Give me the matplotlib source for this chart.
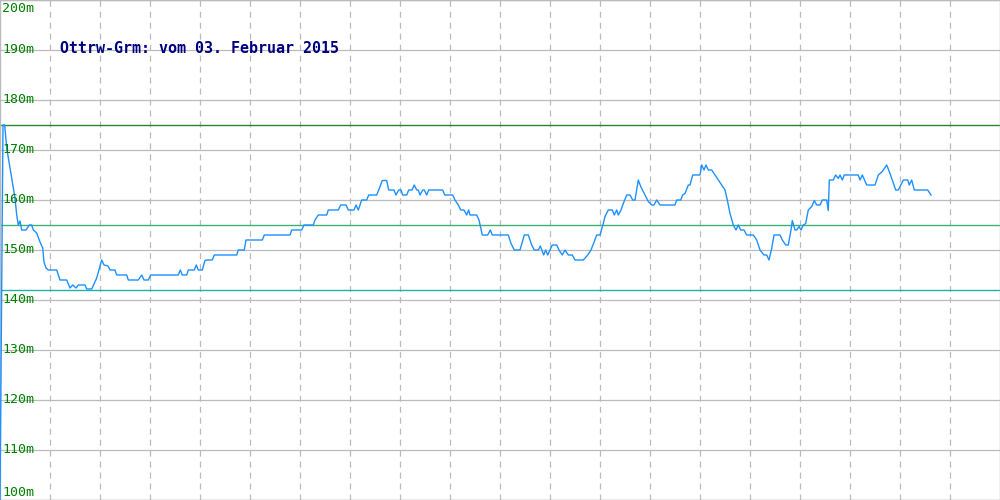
import matplotlib
matplotlib.use("Agg")
import matplotlib.pyplot as plt

# ---- data ----
title_text = "Ottrw-Grm: vom 03. Februar 2015"
y_ticks = [100, 110, 120, 130, 140, 150, 160, 170, 180, 190, 200]
x_grid = [50, 100, 150, 200, 250, 300, 350, 400, 450, 500, 550, 600, 650, 700, 750, 800, 850, 900, 950]
ref_lines = [175, 155, 142]
ref_colors = ["#2a882a", "#3cb371", "#20b2aa"]

t_a = [0, 3, 4.7, 6.7, 10, 12.7, 15, 16.7, 18.3, 20,
       21.7, 26, 29.3, 31.7, 33.3, 36.7, 40, 42.7, 44, 46,
       48.3, 56.7, 60, 66.7, 70, 72.7, 76, 78.3, 85, 86.7,
       91.7, 96.7, 101.7, 104, 108, 110, 115, 116.7, 126.7, 128.3,
       138.3, 141.7, 144, 148.3, 150.7]
h_a = [100, 175, 175, 170.4, 166.4, 163, 160.4, 157, 155, 155.8,
       154, 154, 155, 155, 154, 153.4, 151.6, 150.4, 147.6, 146.4,
       146, 146, 144, 144, 142.4, 143, 142.4, 143, 143, 142.2,
       142.2, 144.4, 148, 147, 146.8, 146, 146, 145, 145, 144,
       144, 145, 144, 144, 145]

t_b = [178.3, 180.3, 182.3, 186.7, 188.3, 194.3, 196.3, 198.3, 202.3, 205,
       206.7, 212.3, 214.3, 236.7, 238.3, 244.3, 246, 262.3, 264.3, 290,
       291.7, 301.7, 304, 313.3]
h_b = [145, 146, 145, 145, 146, 146, 147, 146, 146, 147.9,
       148, 148, 149, 149, 150, 150, 152, 152, 153, 153,
       154, 154, 155, 155]

t_c = [315, 318.3, 326.7, 328.3, 338.3, 340.7, 346, 348.3, 354, 356,
       358.3, 361.7, 366.7, 368.7, 376.7, 379.3, 382.3, 386.7, 388.7, 394,
       396, 398.7, 401, 402.7, 406.7, 408.7, 412, 414.3, 416.7, 418.3,
       420, 422.7, 424.3, 426.7, 428.7, 442.7, 444.7, 452.7, 455, 458.3,
       460.7, 464, 466.7, 468.7]
h_c = [156, 157, 157, 158, 158, 159, 159, 158, 158, 159,
       158, 160, 160, 161, 161, 162.3, 163.9, 163.9, 162, 162,
       161, 162, 162, 161, 161, 162, 162, 163, 162, 162,
       161, 162, 162, 161, 162, 162, 161, 161, 160, 159,
       158, 158, 157, 158]

t_d = [470, 476.7, 479, 482.3, 487.7, 490.3, 492.3, 508.3, 511, 514.3,
       520, 524.3, 528.3, 531.7, 534.3, 538.3, 540.3, 543.7, 545.7, 547.7,
       552.3, 556.7, 559, 562.3, 565, 568.3, 572.3, 575, 583.3, 587.7,
       591, 594.3, 596.7, 600, 603.3, 605, 608.3, 612.3, 614.3, 616.7,
       618.3, 621]
h_d = [157, 157, 156, 153, 153, 154, 153, 153, 151.3, 150,
       150, 153, 153, 151, 150, 150, 150.8, 149, 150, 149,
       151, 151, 150, 149, 150, 149, 149, 148, 148, 149,
       150, 151.7, 153, 153, 155.3, 156.7, 158, 158, 157, 158,
       157, 158]

t_e = [623.3, 626.7, 630, 632.7, 635, 638.3, 640.7, 645, 648.3, 651.7,
       654, 656.7, 660, 675, 676.7, 680.7, 682.7, 685, 688.3, 690,
       692.7, 700, 701.7, 704, 706, 708.3, 711.7, 715, 718.3, 721.7,
       725, 727.3, 730, 733.3, 736, 738.3, 740.7, 744, 746.7, 753.3,
       756.7, 760, 764, 766.7, 769, 771.7, 774]
h_e = [159.3, 161, 161, 160, 160, 164, 162.7, 161, 159.7, 159,
       159, 160, 159, 159, 160, 160, 161, 161.3, 163, 163,
       165, 165, 167, 166, 167, 166, 166, 165, 164, 163,
       162, 160, 157.3, 155, 154, 155, 154, 154, 153, 153,
       152, 150, 149, 149, 148, 150.3, 153]

t_f = [780, 782.3, 785.7, 788.3, 791, 792.3, 795, 796.7, 799, 801,
       803.3, 805.7, 808.3, 811.7, 814.3, 816.7, 820, 822.3, 826.7, 828.3,
       829.3, 833.3, 835.7, 838.3, 840, 842.3, 844.3, 858.3, 860, 862.3,
       866.7, 875, 878.3, 882.3, 886.7, 890, 895.7, 898.3, 903.3, 907.7,
       909.3, 911.7, 914.3, 927.7, 931]
h_f = [153, 152, 151, 151, 154, 155.9, 154, 154, 154.7, 154,
       155, 155.3, 158, 158.7, 159.9, 159, 159, 160, 160, 157.9,
       164, 164, 165, 164.3, 165, 164, 165, 165, 164, 165,
       163, 163, 165, 165.7, 167, 165.3, 162, 162, 164, 164,
       163, 164, 162, 162, 161]

t = t_a + t_b + t_c + t_d + t_e + t_f
hoehe = h_a + h_b + h_c + h_d + h_e + h_f

# ---- figure ----
plt.rcParams['lines.scale_dashes'] = False
fig = plt.figure(figsize=(10, 5), dpi=100)
ax = fig.add_axes([0, 0, 1, 1])
ax.set_xlim(0, 1000)
ax.set_ylim(100, 200)
ax.set_xticks([])
ax.set_yticks([])
for s in ax.spines.values():
    s.set_color("#bbbbbb")
    s.set_linewidth(1)

grid_col = "#bbbbbb"
for v in y_ticks:
    ax.axhline(v, color=grid_col, lw=0.9, zorder=1)
for v in x_grid:
    ax.axvline(v, color=grid_col, lw=0.9, linestyle=(0, (4.3, 3.6)), zorder=1)

for v, c in zip(ref_lines, ref_colors):
    ax.axhline(v, color=c, lw=1.0, zorder=2)

ax.plot(t, hoehe, color="#1e90ff", lw=1.0, zorder=3)

mono = ["DejaVu Sans Mono"]
for v in y_ticks:
    if v == 200:
        ax.text(2, v - 0.4, f"{v}m", color="#008000", fontsize=9.5, family=mono,
                va="top", ha="left", zorder=4)
    elif v == 100:
        ax.text(2, v + 0.1, f"{v}m", color="#008000", fontsize=9.5, family=mono,
                va="bottom", ha="left", zorder=4)
    else:
        ax.text(2, v + 0.15, f"{v}m", color="#008000", fontsize=9.5, family=mono,
                va="center", ha="left", zorder=4)

ax.text(60, 190.3, title_text, color="#000080", fontsize=10.8, family=mono,
        fontweight="bold", va="center", ha="left", zorder=4)

fig.savefig("out.png", dpi=100)
